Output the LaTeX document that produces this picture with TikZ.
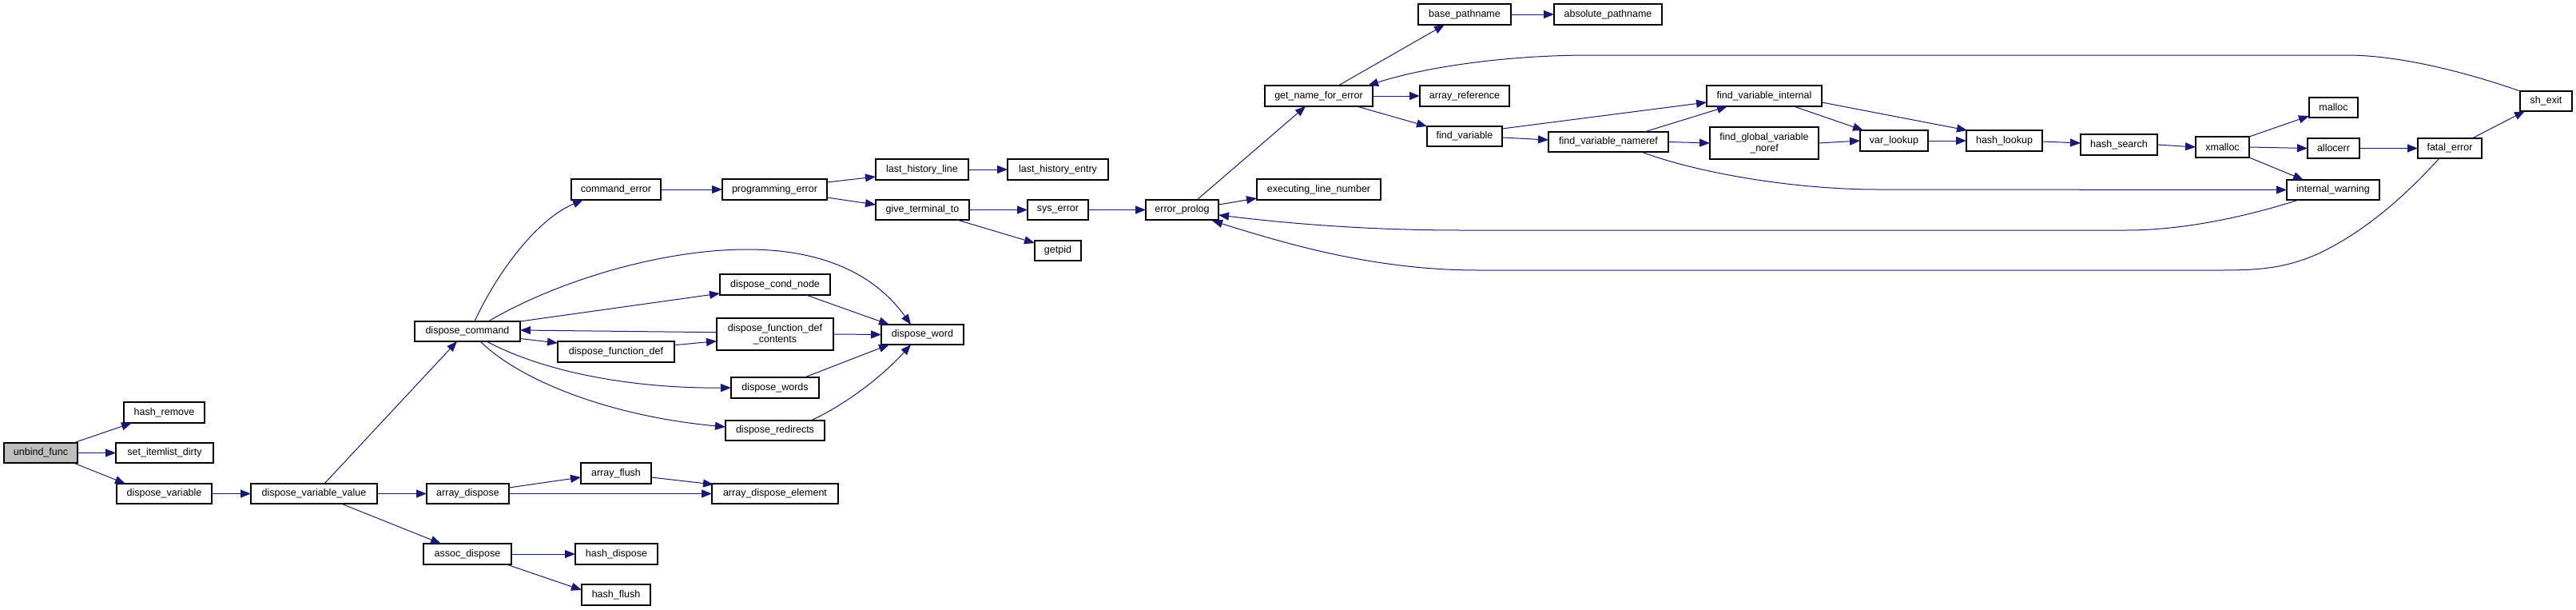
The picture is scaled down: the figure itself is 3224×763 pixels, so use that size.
\documentclass[tikz,border=0pt]{standalone}
\usepackage{fontspec}
\setmainfont{Liberation Sans}
\usetikzlibrary{arrows.meta}
\definecolor{edgec}{HTML}{191970}
\definecolor{rootfill}{HTML}{BFBFBF}
\newcommand{\gbox}[7][box]{\node[#1,minimum width={#5-#3},minimum height={#6-#4}] (#2) at ({(#3+#5)/2},{(#4+#6)/2}) {#7};}
\begin{document}
\begin{tikzpicture}[x=1pt,y=-1pt,
  box/.style={draw=black, fill=white, line width=1.2pt, inner sep=0pt, outer sep=0pt, align=center, font=\fontsize{12.5}{14.5}\selectfont},
  root/.style={box, fill=rootfill},
  edge/.style={draw=edgec, line width=1pt, -{Triangle[length=13pt,width=10pt]}},
]
\useasboundingbox[fill=white] (0,0) rectangle (3224,763);
% nodes
\gbox[root]{unbind}{5}{554}{97}{579}{unbind\_func}
\gbox{hashremove}{155}{503}{256}{529}{hash\_remove}
\gbox{setdirty}{145}{554}{267}{579}{set\_itemlist\_dirty}
\gbox{dispvar}{146}{605}{265}{630}{dispose\_variable}
\gbox{dispvarval}{314}{605}{472}{630}{dispose\_variable\_value}
\gbox{arrdisp}{534}{605}{637}{630}{array\_dispose}
\gbox{arrflush}{727}{579}{815}{605}{array\_flush}
\gbox{arrelem}{891}{605}{1049}{630}{array\_dispose\_element}
\gbox{assocdisp}{530}{680}{640}{706}{assoc\_dispose}
\gbox{hashdisp}{720}{680}{823}{706}{hash\_dispose}
\gbox{hashflush}{728}{731}{814}{757}{hash\_flush}
\gbox{dispcmd}{519}{402}{651}{427}{dispose\_command}
\gbox{cmderr}{715}{224}{827}{250}{command\_error}
\gbox{progerr}{904}{224}{1035}{250}{programming\_error}
\gbox{condnode}{901}{343}{1039}{369}{dispose\_cond\_node}
\gbox{fdefcont}{897}{398}{1043}{438}{dispose\_function\_def\\\_contents}
\gbox{fdef}{698}{427}{844}{453}{dispose\_function\_def}
\gbox{dispwords}{915}{472}{1025}{498}{dispose\_words}
\gbox{disredir}{908}{526}{1032}{551}{dispose\_redirects}
\gbox{dispword}{1103}{406}{1206}{431}{dispose\_word}
\gbox{lasthl}{1096}{199}{1212}{225}{last\_history\_line}
\gbox{lasthe}{1261}{199}{1387}{225}{last\_history\_entry}
\gbox{giveterm}{1096}{250}{1213}{275}{give\_terminal\_to}
\gbox{syserr}{1286}{250}{1362}{275}{sys\_error}
\gbox{getpid}{1295}{301}{1353}{326}{getpid}
\gbox{errprolog}{1434}{250}{1525}{275}{error\_prolog}
\gbox{execline}{1573}{224}{1728}{250}{executing\_line\_number}
\gbox{getname}{1583}{107}{1718}{133}{get\_name\_for\_error}
\gbox{basepath}{1775}{5}{1891}{31}{base\_pathname}
\gbox{abspath}{1945}{5}{2080}{31}{absolute\_pathname}
\gbox{arrref}{1777}{107}{1889}{133}{array\_reference}
\gbox{findvar}{1786}{158}{1880}{183}{find\_variable}
\gbox{fvnameref}{1938}{165}{2088}{190}{find\_variable\_nameref}
\gbox{fvinternal}{2136}{107}{2280}{133}{find\_variable\_internal}
\gbox{fglobal}{2140}{159}{2276}{199}{find\_global\_variable\\\_noref}
\gbox{varlookup}{2328}{163}{2413}{189}{var\_lookup}
\gbox{hashlookup}{2461}{163}{2556}{189}{hash\_lookup}
\gbox{hashsearch}{2604}{168}{2700}{194}{hash\_search}
\gbox{xmalloc}{2748}{171}{2815}{197}{xmalloc}
\gbox{malloc}{2890}{122}{2951}{147}{malloc}
\gbox{allocerr}{2888}{173}{2953}{198}{allocerr}
\gbox{intwarn}{2862}{225}{2978}{250}{internal\_warning}
\gbox{fatalerr}{3026}{173}{3106}{198}{fatal\_error}
\gbox{shexit}{3154}{114}{3219}{139}{sh\_exit}
% edges
\draw[edge] ([shift={(-5,0)}]unbind.north east) -- ([shift={(10,0)}]hashremove.south west);
\draw[edge] (unbind.east) -- (setdirty.west);
\draw[edge] ([shift={(-5,0)}]unbind.south east) -- ([shift={(11,0)}]dispvar.north west);
\draw[edge] (dispvar.east) -- (dispvarval.west);
\draw[edge] (dispvarval.east) -- (arrdisp.west);
\draw[edge] ([shift={(113,0)}]dispvarval.south west) -- ([shift={(22,0)}]assocdisp.north west);
\draw[edge] ([shift={(92,0)}]dispvarval.north west) -- ([shift={(53,0)}]dispcmd.south west);
\draw[edge] ([shift={(0,-7.5)}]arrdisp.east) -- ([shift={(0,5)}]arrflush.west);
\draw[edge] (arrdisp.east) -- (arrelem.west);
\draw[edge] ([shift={(0,5)}]arrflush.east) -- ([shift={(2,1)}]arrelem.north west);
\draw[edge] (assocdisp.east) -- (hashdisp.west);
\draw[edge] ([shift={(-6,0)}]assocdisp.south east) -- ([shift={(0,-6)}]hashflush.west);
\draw[edge] ([shift={(75,0)}]dispcmd.north west) .. controls (620,345) and (670,275) .. ([shift={(15,0)}]cmderr.south west);
\draw[edge] (cmderr.east) -- (progerr.west);
\draw[edge] ([shift={(0,-9)}]progerr.east) -- ([shift={(0,9)}]lasthl.west);
\draw[edge] ([shift={(0,10)}]progerr.east) -- ([shift={(0,-6.5)}]giveterm.west);
\draw[edge] (lasthl.east) -- (lasthe.west);
\draw[edge] (giveterm.east) -- (syserr.west);
\draw[edge] ([shift={(-15,0)}]giveterm.south east) -- ([shift={(0,3)}]getpid.north west);
\draw[edge] (syserr.east) -- (errprolog.west);
\draw[edge] ([shift={(0,-6.5)}]errprolog.east) -- ([shift={(0,-2)}]execline.south west);
\draw[edge] ([shift={(64,0)}]errprolog.north west) -- ([shift={(51,0)}]getname.south west);
\draw[edge] ([shift={(92,0)}]getname.north west) -- ([shift={(33,0)}]basepath.south west);
\draw[edge] (basepath.east) -- (abspath.west);
\draw[edge] (getname.east) -- (arrref.west);
\draw[edge] ([shift={(-20,0)}]getname.south east) -- (findvar.north west);
\draw[edge] ([shift={(0,3)}]findvar.north east) -- ([shift={(0,8)}]fvinternal.west);
\draw[edge] ([shift={(0,1.5)}]findvar.east) -- ([shift={(0,-2.5)}]fvnameref.west);
\draw[edge] ([shift={(-30,0)}]fvnameref.north east) -- ([shift={(26,0)}]fvinternal.south west);
\draw[edge] (fvnameref.east) -- (fglobal.west);
\draw[edge] ([shift={(-34,0)}]fvnameref.south east) .. controls (2130,218) and (2250,237) .. (2350,237) -- (intwarn.west);
\draw[edge] ([shift={(-35,0)}]fvinternal.south east) -- ([shift={(4,0)}]varlookup.north west);
\draw[edge] ([shift={(0,8)}]fvinternal.east) -- ([shift={(1,0)}]hashlookup.north west);
\draw[edge] (fglobal.east) -- (varlookup.west);
\draw[edge] (varlookup.east) -- (hashlookup.west);
\draw[edge] ([shift={(0,1)}]hashlookup.east) -- ([shift={(0,-2)}]hashsearch.west);
\draw[edge] (hashsearch.east) -- (xmalloc.west);
\draw[edge] (xmalloc.north east) -- ([shift={(0,-2)}]malloc.south west);
\draw[edge] (xmalloc.east) -- (allocerr.west);
\draw[edge] (xmalloc.south east) -- ([shift={(21,0)}]intwarn.north west);
\draw[edge] (allocerr.east) -- (fatalerr.west);
\draw[edge] ([shift={(-12,0)}]fatalerr.north east) -- ([shift={(6,0)}]shexit.south west);
\draw[edge] (shexit.north west) .. controls (3100,95) and (3010,69) .. (2937,69) -- (1991,69) .. controls (1880,69) and (1780,85) .. ([shift={(-6,0)}]getname.north east);
\draw[edge] ([shift={(15,0)}]intwarn.south west) .. controls (2820,268) and (2740,288) .. (2660,288) -- (1830,288) .. controls (1700,288) and (1600,278) .. ([shift={(0,6.5)}]errprolog.east);
\draw[edge] ([shift={(-13,0)}]fatalerr.south) .. controls (3010,245) and (2960,290) .. (2900,318) .. controls (2860,335) and (2830,338) .. (2780,338) -- (1850,338) .. controls (1720,338) and (1610,305) .. ([shift={(-8,1)}]errprolog.south east);
\draw[edge] ([shift={(92,0)}]dispcmd.north west) .. controls (700,350) and (830,312) .. (935,312) .. controls (1040,312) and (1100,350) .. ([shift={(37,0)}]dispword.north west);
\draw[edge] (dispcmd.north east) -- ([shift={(0,-2)}]condnode.south west);
\draw[edge] ([shift={(0,-2.3)}]fdefcont.west) -- ([shift={(0,-1.5)}]dispcmd.east);
\draw[edge] ([shift={(0,9)}]dispcmd.east) -- ([shift={(0,2)}]fdef.north west);
\draw[edge] ([shift={(0,-8.3)}]fdef.east) -- ([shift={(0,8.7)}]fdefcont.west);
\draw[edge] (fdefcont.east) -- (dispword.west);
\draw[edge] ([shift={(-30,0)}]condnode.south east) -- ([shift={(10,0)}]dispword.north west);
\draw[edge] ([shift={(90,0)}]dispcmd.south west) .. controls (680,465) and (790,486) .. (dispwords.west);
\draw[edge] ([shift={(-18,0)}]dispwords.north east) -- ([shift={(10,0)}]dispword.south west);
\draw[edge] ([shift={(82,0)}]dispcmd.south west) .. controls (650,475) and (760,520) .. ([shift={(0,-4.5)}]disredir.west);
\draw[edge] ([shift={(-17,0)}]disredir.north east) .. controls (1060,505) and (1105,470) .. ([shift={(37,0)}]dispword.south west);
\end{tikzpicture}
\end{document}
